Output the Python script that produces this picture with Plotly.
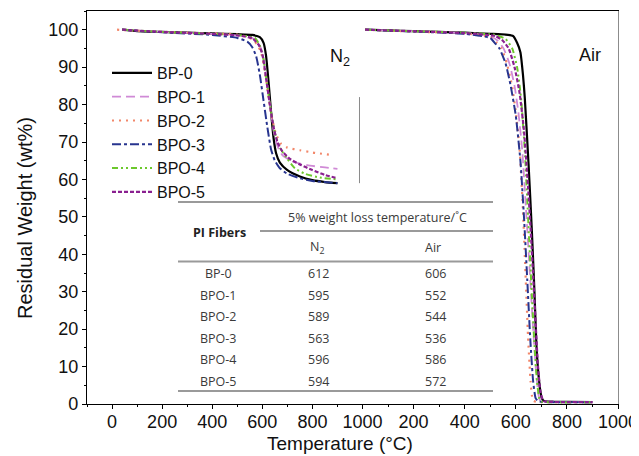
import plotly.graph_objects as go
from plotly.subplots import make_subplots

# ---------------- data ----------------
series_names = ["BP-0", "BPO-1", "BPO-2", "BPO-3", "BPO-4", "BPO-5"]

# N2 panel
n2_T_bp0 = [40, 100, 200, 300, 400, 500, 560, 590, 605, 615, 625, 635, 645, 655, 670, 700, 750, 800, 850, 900]
n2_W_bp0 = [100, 99.6, 99.4, 99.2, 99.0, 98.8, 98.6, 98.0, 96.5, 93, 86, 78, 71, 67, 64.5, 62.5, 60.8, 59.8, 59.3, 59.0]
n2_T_bpo1 = [40, 200, 400, 500, 560, 585, 600, 615, 630, 645, 660, 680, 720, 780, 850, 900]
n2_W_bpo1 = [100, 99.4, 98.9, 98.5, 97.8, 96.3, 94, 88, 80, 73, 69, 66.5, 64.8, 63.8, 63.2, 62.8]
n2_T_bpo2 = [20, 100, 300, 500, 560, 580, 595, 610, 625, 640, 655, 675, 700, 750, 800, 880]
n2_W_bpo2 = [100, 99.7, 99.2, 98.7, 97.5, 96, 94, 89, 82, 76, 72, 69.5, 68.5, 67.8, 67.2, 66.5]
n2_T_bpo3 = [40, 200, 400, 500, 540, 560, 575, 590, 605, 620, 635, 650, 670, 700, 750, 800, 900]
n2_W_bpo3 = [100, 99.3, 98.6, 97.8, 96.8, 95.3, 93, 88, 81, 74, 68, 65, 63, 61.5, 60.3, 59.6, 59.0]
n2_T_bpo4 = [40, 200, 400, 500, 570, 590, 605, 620, 635, 650, 670, 700, 730, 770, 830, 900]
n2_W_bpo4 = [100, 99.4, 98.9, 98.6, 97.8, 95.8, 92, 85, 78, 72.5, 68.5, 65.5, 63, 61.5, 60.5, 60.0]
n2_T_bpo5 = [40, 200, 400, 500, 560, 585, 600, 615, 630, 645, 660, 680, 710, 750, 800, 850, 900]
n2_W_bpo5 = [100, 99.4, 98.9, 98.5, 97.7, 96, 93.5, 87, 80, 74, 70, 67.5, 65.5, 64, 62.5, 61.2, 60.3]

# Air panel
air_T_bp0 = [10, 100, 200, 300, 400, 500, 560, 590, 605, 618, 628, 635, 650, 663, 673, 682, 695, 702, 710, 750, 800, 900]
air_W_bp0 = [100, 99.8, 99.6, 99.4, 99.2, 98.9, 98.7, 98.3, 96.5, 94, 88, 82, 64, 46, 30, 14, 4, 1.5, 0.8, 0.6, 0.6, 0.5]
air_T_bpo1 = [10, 200, 400, 500, 530, 552, 575, 595, 610, 625, 640, 655, 668, 680, 690, 697, 750, 900]
air_W_bpo1 = [100, 99.6, 99.1, 98.3, 97, 95, 91, 85, 78, 68, 52, 35, 20, 8, 2, 0.8, 0.6, 0.5]
air_T_bpo2 = [10, 200, 400, 500, 525, 544, 565, 585, 600, 615, 628, 638, 648, 658, 667, 680, 900]
air_W_bpo2 = [100, 99.5, 99.0, 98.0, 96.5, 95, 91, 85, 78, 68, 52, 35, 18, 6, 1, 0.6, 0.5]
air_T_bpo3 = [10, 200, 400, 500, 520, 536, 560, 580, 600, 618, 632, 645, 657, 668, 678, 690, 900]
air_W_bpo3 = [100, 99.5, 98.9, 97.8, 96.3, 95, 91, 85, 77, 65, 50, 33, 17, 6, 1.5, 0.7, 0.5]
air_T_bpo4 = [10, 200, 400, 520, 560, 586, 605, 620, 635, 648, 660, 672, 683, 692, 700, 900]
air_W_bpo4 = [100, 99.6, 99.2, 98.6, 97.5, 95, 90, 82, 68, 50, 33, 17, 6, 1.5, 0.7, 0.5]
air_T_bpo5 = [10, 200, 400, 520, 550, 572, 595, 615, 632, 648, 662, 675, 687, 697, 708, 720, 900]
air_W_bpo5 = [100, 99.6, 99.1, 98.3, 97, 95, 90, 83, 73, 58, 42, 25, 10, 3, 0.8, 0.6, 0.5]

n2_T = [n2_T_bp0, n2_T_bpo1, n2_T_bpo2, n2_T_bpo3, n2_T_bpo4, n2_T_bpo5]
n2_W = [n2_W_bp0, n2_W_bpo1, n2_W_bpo2, n2_W_bpo3, n2_W_bpo4, n2_W_bpo5]
air_T = [air_T_bp0, air_T_bpo1, air_T_bpo2, air_T_bpo3, air_T_bpo4, air_T_bpo5]
air_W = [air_W_bp0, air_W_bpo1, air_W_bpo2, air_W_bpo3, air_W_bpo4, air_W_bpo5]

# inset table
table_fibers = ["BP-0", "BPO-1", "BPO-2", "BPO-3", "BPO-4", "BPO-5"]
table_n2 = ["612", "595", "589", "563", "596", "594"]
table_air = ["606", "552", "544", "536", "586", "572"]

x_ticks_left = [0, 200, 400, 600, 800, 1000]
x_ticks_right = [200, 400, 600, 800, 1000]
y_ticks = [0, 10, 20, 30, 40, 50, 60, 70, 80, 90, 100]

# ---------------- styles ----------------
colors = ["#000000", "#d08ad6", "#f2876a", "#27348f", "#6cc82c", "#8a2090"]
dashes = ["solid", "9px,5px", "2px,5px", "9px,3px,3px,3px", "6px,3px,2px,3px,2px,3px", "4px,2px"]
widths = [2.2, 1.8, 2.2, 2.0, 2.0, 2.2]

FONT = "Liberation Sans, Arial, sans-serif"
TFONT = "Open Sans, Noto Sans, sans-serif"

# page body has an 8px margin: figure is placed at (8, 8) in the window
OFF = 8
W, H = 631, 448
ML, MR, MT, MB = 87 - OFF, 21, 11 - OFF, 52
PW, PH = W - ML - MR, H - MT - MB
split = (362.5 - 87) / PW


def px(xp):  # window pixel -> paper x
    return (xp - OFF - ML) / PW


def py(yp):  # window pixel -> paper y
    return (H - MB - (yp - OFF)) / PH


fig = make_subplots(rows=1, cols=2, shared_yaxes=False, horizontal_spacing=0,
                    column_widths=[split, 1 - split])

for i, name in enumerate(series_names):
    fig.add_trace(go.Scatter(x=n2_T[i], y=n2_W[i], name=name, mode="lines",
                             legendgroup=name,
                             line=dict(color=colors[i], dash=dashes[i], width=widths[i],
                                       shape="spline", smoothing=0.5)),
                  row=1, col=1)
for i, name in enumerate(series_names):
    fig.add_trace(go.Scatter(x=air_T[i], y=air_W[i], name=name, mode="lines",
                             legendgroup=name, showlegend=False,
                             line=dict(color=colors[i], dash=dashes[i], width=widths[i],
                                       shape="spline", smoothing=0.5)),
                  row=1, col=2)

axis_common = dict(showgrid=False, zeroline=False, showline=True, linecolor="black",
                   linewidth=1.3, ticks="outside", ticklen=4, tickcolor="black",
                   automargin=False,
                   tickfont=dict(family=FONT, size=18, color="#111"))

fig.update_xaxes(range=[-100, 1000], domain=[0, split], tickvals=x_ticks_left,
                 mirror=True, ticklabelstandoff=-3,
                 minor=dict(dtick=100, tick0=0, ticks="outside", ticklen=2, tickcolor="black"),
                 row=1, col=1, **axis_common)
fig.update_xaxes(range=[0, 1000], domain=[split, 1], tickvals=x_ticks_right,
                 mirror=True, ticklabelstandoff=-3,
                 minor=dict(dtick=100, tick0=0, ticks="outside", ticklen=2, tickcolor="black"),
                 row=1, col=2, **axis_common)
fig.update_yaxes(range=[0, 105], tickvals=y_ticks,
                 minor=dict(dtick=5, tick0=0, ticks="outside", ticklen=2, tickcolor="black"),
                 row=1, col=1, **axis_common)
fig.update_yaxes(range=[0, 105], showgrid=False, zeroline=False, showticklabels=False,
                 ticks="", showline=True, linecolor="#8c8c8c", linewidth=1.3, side="right",
                 automargin=False, row=1, col=2)

shapes = []
# partial divider line near the panel boundary
shapes.append(dict(type="line", xref="x", yref="y", x0=988, x1=988, y0=59, y1=82,
                   line=dict(color="#8a8a8a", width=1)))
# table rules
tl, tr = px(178), px(493)
for yy, x0 in [(202, tl), (231, px(260)), (261.5, tl), (391, tl)]:
    shapes.append(dict(type="line", xref="paper", yref="paper", x0=x0, x1=tr,
                       y0=py(yy), y1=py(yy), line=dict(color="#9a9a9a", width=2)))

ann = []


def label(text, xw, yw, size, family=FONT, color="#111", angle=0):
    ann.append(dict(text=text, x=px(xw), y=py(yw), xref="paper", yref="paper",
                    xanchor="center", yanchor="middle", textangle=angle,
                    showarrow=False, font=dict(family=family, size=size, color=color)))


label("N<sub>2</sub>", 340, 57, 18)
label("Air", 590, 55, 18)
label("Temperature (°C)", 340, 443, 19)
label("Residual Weight (wt%)", 25, 218, 20, angle=-90)

tcol = "#3a3a3a"
label("5% weight loss temperature/˚C", 377, 217, 12.5, TFONT, tcol)
label("<b>PI Fibers</b>", 219, 232, 12.5, TFONT, "#222")
label("N<sub>2</sub>", 317, 247, 12.5, TFONT, tcol)
label("Air", 433, 247, 12.5, TFONT, tcol)
for r in range(len(table_fibers)):
    yy = 273.5 + r * 21.6
    label(table_fibers[r], 218, yy, 12.5, TFONT, tcol)
    label(table_n2[r], 318, yy, 12.5, TFONT, tcol)
    label(table_air[r], 435, yy, 12.5, TFONT, tcol)

fig.update_layout(
    width=W, height=H, margin=dict(l=ML, r=MR, t=MT, b=MB, autoexpand=False),
    plot_bgcolor="white", paper_bgcolor="white",
    shapes=shapes, annotations=ann,
    legend=dict(x=px(107), y=py(56), xanchor="left", yanchor="top",
                bgcolor="rgba(0,0,0,0)", itemwidth=40, tracegroupgap=0,
                font=dict(family=FONT, size=16, color="#111")),
)

fig.write_html("out.html")
